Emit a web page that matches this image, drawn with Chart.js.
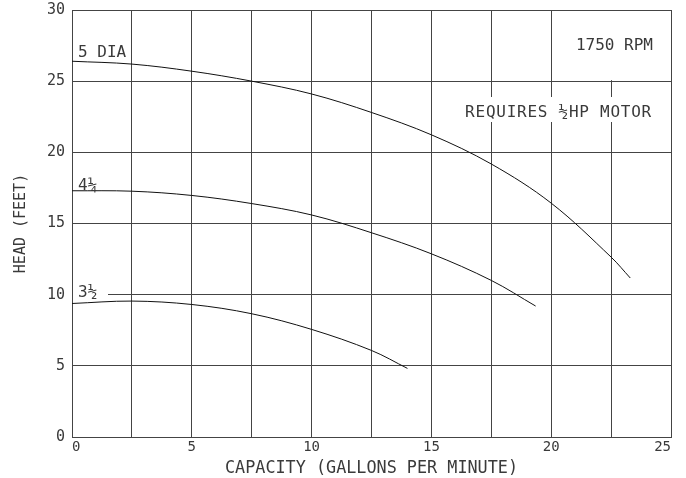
<!DOCTYPE html>
<html>
<head>
<meta charset="utf-8">
<script src="https://cdn.jsdelivr.net/npm/chart.js@4/dist/chart.umd.min.js"></script>
<style>
html,body{margin:0;padding:0;background:#fff;}
#wrap{width:686px;height:478px;position:relative;}
</style>
</head>
<body>
<div id="wrap"><canvas id="c"></canvas></div>
<script>
// ---- data ----
const capacity5 = [0, 2.5, 5, 7.5, 10, 12.5, 15, 17.5, 20, 22.5, 23.3];
const head5     = [26.4, 26.2, 25.7, 25.0, 24.1, 22.8, 21.23, 19.18, 16.43, 12.64, 11.17];
const capacity4 = [0, 2.5, 5, 7.5, 10, 12.5, 15, 17.5, 19.35];
const head4     = [17.3, 17.27, 16.97, 16.4, 15.6, 14.35, 12.87, 11.0, 9.2];
const capacity3 = [0, 2.5, 5, 7.5, 10, 12.5, 14.0];
const head3     = [9.38, 9.55, 9.31, 8.66, 7.56, 6.08, 4.82];
const curveLabels = ['5 DIA', '4¼', '3½'];
const xTicks = [0, 5, 10, 15, 20, 25];
const yTicks = [0, 5, 10, 15, 20, 25, 30];
const xTitle = 'CAPACITY (GALLONS PER MINUTE)';
const yTitle = 'HEAD (FEET)';
const noteRpm = '1750 RPM';
const noteMotor = 'REQUIRES ½HP MOTOR';

const FONT = '"DejaVu Sans Mono", "Liberation Mono", monospace';
const TXT = '#3a3a3a';
const GRID = '#444';

function pts(xs, ys){ return xs.map((x,i)=>({x:x, y:ys[i]})); }

const overlay = {
  id: 'overlay',
  beforeDatasetsDraw(chart){
    const {ctx, scales:{x, y}} = chart;
    ctx.save();
    ctx.fillStyle = '#fff';
    // gaps in grid behind annotations
    const xg = x.getPixelForValue(22.5);
    ctx.fillRect(xg-2, y.getPixelForValue(30)+1, 4, y.getPixelForValue(25)-y.getPixelForValue(30)-2);
    ctx.fillRect(456, 97, 204, 25);
    ctx.fillRect(x.getPixelForValue(0)+1, y.getPixelForValue(10)-2, 35, 4);
    ctx.restore();
  },
  afterDatasetsDraw(chart){
    const {ctx, scales:{x, y}} = chart;
    ctx.save();
    ctx.fillStyle = TXT;
    ctx.textBaseline = 'middle';
    ctx.font = '16px ' + FONT;
    ctx.textAlign = 'left';
    const lx = x.getPixelForValue(0) + 6;
    ctx.fillText(curveLabels[0], lx, 53);
    ctx.fillText(curveLabels[1], lx, 186);
    ctx.fillText(curveLabels[2], lx, 293);
    ctx.textAlign = 'right';
    ctx.fillText(noteRpm, 653, 46);
    ctx.letterSpacing = '0.75px';
    ctx.fillText(noteMotor, 652, 113);
    ctx.restore();
  }
};

new Chart(document.getElementById('c'), {
  type: 'line',
  data: {
    datasets: [
      {label: curveLabels[0], data: pts(capacity5, head5)},
      {label: curveLabels[1], data: pts(capacity4, head4)},
      {label: curveLabels[2], data: pts(capacity3, head3)}
    ].map(d => Object.assign(d, {
      borderColor: '#111', borderWidth: 1, pointRadius: 0, fill: false,
      tension: 0.35
    }))
  },
  options: {
    responsive: true,
    maintainAspectRatio: false,
    animation: false,
    devicePixelRatio: 1,
    layout: {padding: {top: 10, right: 15, left: 0, bottom: 0}},
    plugins: {legend: {display: false}, tooltip: {enabled: false}},
    scales: {
      x: {
        type: 'linear', min: 0, max: 25,
        afterFit(s){ s.height = 41; s.paddingLeft = 0; s.paddingRight = 0; },
        afterBuildTicks(s){
          const t = [];
          for (let v = 0; v <= 25; v += 2.5) t.push({value: v});
          s.ticks = t;
        },
        ticks: {
          autoSkip: false, maxRotation: 0, padding: 2, align: 'inner',
          color: TXT, font: {family: FONT, size: 14},
          callback: v => xTicks.includes(v) ? String(v) : ''
        },
        grid: {color: GRID, lineWidth: 1, drawTicks: false},
        border: {color: GRID, width: 1},
        title: {display: true, text: xTitle, color: TXT,
                font: {family: FONT, size: 16.8, lineHeight: 1},
                padding: {top: 0, bottom: 1}}
      },
      y: {
        type: 'linear', min: 0, max: 30,
        afterFit(s){ s.width = 72; s.paddingTop = 0; s.paddingBottom = 0; },
        afterBuildTicks(s){ s.ticks = yTicks.map(v => ({value: v})); },
        ticks: {
          padding: 7, color: TXT, font: {family: FONT, size: 15},
          callback: v => String(v)
        },
        grid: {color: GRID, lineWidth: 1, drawTicks: false},
        border: {color: GRID, width: 1},
        title: {display: true, text: yTitle, color: TXT,
                font: {family: FONT, size: 15, lineHeight: 1},
                padding: {top: 14, bottom: 0}}
      }
    }
  },
  plugins: [overlay]
});
</script>
</body>
</html>
